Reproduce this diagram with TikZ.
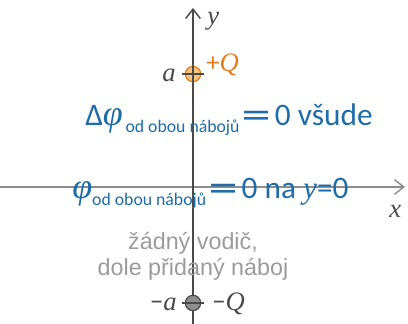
\documentclass[tikz,border=0pt]{standalone}
\usepackage{fontspec}
\setmainfont{Carlito}
\newfontfamily\notefont{Liberation Sans}
\newfontfamily\varfont{Liberation Serif}
\newfontfamily\relfont{DejaVu Sans}
\usetikzlibrary{arrows.meta}
\definecolor{PotBlue}{HTML}{1E6DAA}
\definecolor{ChargeOrange}{HTML}{E57D1C}
\definecolor{ChargeFill}{HTML}{F8C67E}
\definecolor{NoteGray}{HTML}{9B9B9B}
\definecolor{AxisDark}{HTML}{4A4A4A}
\definecolor{AxisLight}{HTML}{8E8E8E}
\newcommand{\itvar}[1]{{\varfont\itshape #1}}
\newcommand{\bigphi}{{\fontsize{27}{30}\selectfont\itvar{φ}}}
\newcommand{\chargesub}[1]{\raisebox{-5pt}{\fontsize{13.3}{15}\selectfont #1}}
\newcommand{\releq}{\hspace{1pt}\scalebox{1.22}[1]{\relfont =}\hspace{1.5pt}}

\begin{document}
\begin{tikzpicture}[x=0.75pt,y=-0.75pt,
      axis/.style={line width=1.1pt,-{Straight Barb[length=7pt,width=11pt,line width=1.1pt]}},
      charge/.style={circle,draw,line width=0.9pt,minimum size=11.5pt,inner sep=0pt},
      cross/.style={line width=0.9pt},
      lbl/.style={font=\varfont\itshape\fontsize{20}{24}\selectfont,inner sep=0pt},
      eqn/.style={font=\fontsize{23.5}{28}\selectfont,text=PotBlue,inner sep=0pt,anchor=base west},
      note/.style={font=\notefont\fontsize{17.5}{19.5}\selectfont,text=NoteGray,align=center}]
    \useasboundingbox (0,0) rectangle (408,324);
    % axes
    \coordinate (xl) at (0,187);
    \coordinate (xr) at (405,187);
    \coordinate (yb) at (193,324);
    \coordinate (yt) at (193,8);
    \draw[axis,AxisLight] (xl) -- (xr);
    \draw[axis,AxisDark] (yb) -- (yt);
    \node[lbl,anchor=base west,text=AxisDark] (ylab) at (207,25) {y};
    \node[lbl,anchor=base west,text=AxisDark] (xlab) at (389,218) {x};
    % charges
    \node[charge,draw=ChargeOrange,fill=ChargeFill] (qtop) at (193,74) {};
    \draw[cross,AxisDark] ([xshift=-8.5pt]qtop.center) -- ([xshift=8.5pt]qtop.center);
    \draw[cross,AxisDark] (qtop.north) -- (qtop.south);
    \node[charge,draw=AxisDark,fill=AxisLight] (qbot) at (193,303) {};
    \draw[cross,AxisDark] ([xshift=-8.5pt]qbot.center) -- ([xshift=8.5pt]qbot.center);
    \node[lbl,anchor=base east,text=AxisDark] (atop) at (176,82) {a};
    \node[lbl,anchor=base west,text=ChargeOrange] (qplus) at (206,72) {{\upshape\rmfamily +}Q};
    \node[lbl,anchor=base east,text=AxisDark] (abot) at (177,311) {{\upshape\rmfamily −}a};
    \node[lbl,anchor=base west,text=AxisDark] (qminus) at (212,311) {{\upshape\rmfamily −}Q};
    % equations
    \node[eqn] (lap) at (85,126) {Δ\bigphi\hspace{2pt}\chargesub{od obou nábojů}\releq 0 všude};
    \node[eqn] (pot) at (72,199) {\bigphi\chargesub{od obou nábojů}\releq 0 na \itvar{y}=0};
    \node[note] (nocond) at (193,256) {žádný vodič,\\dole přidaný náboj};
  \end{tikzpicture}
\end{document}
